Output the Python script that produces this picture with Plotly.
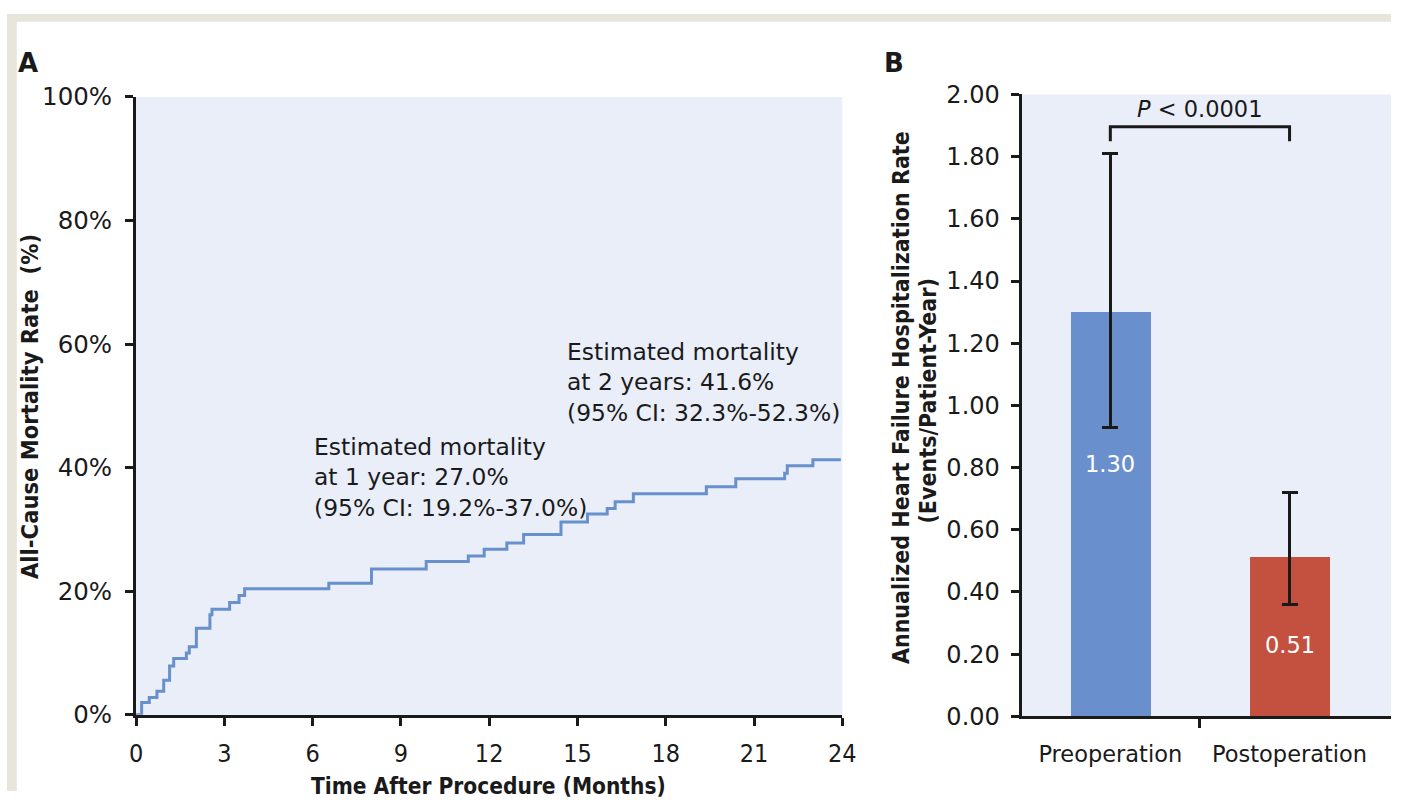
import plotly.graph_objects as go

# ---------------- data ----------------
months = [0, 0.19, 0.45, 0.71, 0.94, 1.14, 1.28, 1.71, 1.81, 2.05, 2.51, 2.58, 3.18, 3.50, 3.69,
          6.55, 8.0, 9.86, 11.29, 11.83, 12.6, 13.17, 14.44, 15.34, 16.01, 16.28, 16.9,
          19.38, 20.38, 22.04, 22.13, 23.0, 23.95]
mortality_pct = [0, 2.0, 2.8, 3.8, 5.6, 7.9, 9.1, 10.0, 11.0, 14.0, 16.2, 17.1, 18.2, 19.3, 20.4,
                 21.3, 23.6, 24.8, 25.7, 26.8, 27.8, 29.2, 31.2, 32.5, 33.4, 34.5, 35.8,
                 36.9, 38.2, 39.1, 40.3, 41.3, 41.3]
month_ticks = [0, 3, 6, 9, 12, 15, 18, 21, 24]
pct_ticks = [0, 20, 40, 60, 80, 100]
pct_labels = ["0%", "20%", "40%", "60%", "80%", "100%"]

categories = ["Preoperation", "Postoperation"]
hf_rate = [1.30, 0.51]
ci_upper = [1.81, 0.72]
ci_lower = [0.93, 0.36]
rate_ticks = [0.0, 0.2, 0.4, 0.6, 0.8, 1.0, 1.2, 1.4, 1.6, 1.8, 2.0]
bracket_top = 1.896
bracket_leg = 1.85
p_text = "<i>P</i> &lt; 0.0001"

note_1yr = ["Estimated mortality", "at 1 year: 27.0%", "(95% CI: 19.2%-37.0%)"]
note_2yr = ["Estimated mortality", "at 2 years: 41.6%", "(95% CI: 32.3%-52.3%)"]

# ---------------- style ----------------
W, H = 1405, 806
LINE = "#6890cc"
BLUE = "#6a8fcd"
RED = "#c4503f"
PLOTBG = "#e9eef8"
BEIGE = "#e8e5dd"
INK = "#1a1a1a"
FONT = "DejaVu Sans, Open Sans, sans-serif"
COND = "DejaVu Sans Condensed, Liberation Sans Narrow, DejaVu Sans, sans-serif"


def px(xp):
    return xp / W


def py(yp):
    return 1 - yp / H


def ptxt(text, x, y, size, family=FONT, angle=0, color=INK):
    return dict(text=text, x=px(x), y=py(y), xref="paper", yref="paper", showarrow=False,
                xanchor="center", yanchor="middle", textangle=angle,
                font=dict(family=family, size=size, color=color))


fig = go.Figure()

fig.add_trace(go.Scatter(
    x=months, y=mortality_pct, mode="lines",
    line=dict(shape="hv", color=LINE, width=3),
    xaxis="x", yaxis="y", hoverinfo="skip", showlegend=False))

fig.add_trace(go.Bar(
    x=[0, 1], y=hf_rate, width=0.445,
    marker=dict(color=[BLUE, RED], line_width=0),
    error_y=dict(type="data",
                 array=[u - v for u, v in zip(ci_upper, hf_rate)],
                 arrayminus=[v - l for v, l in zip(hf_rate, ci_lower)],
                 color=INK, thickness=3, width=8),
    xaxis="x2", yaxis="y2", hoverinfo="skip", showlegend=False))

fig.add_trace(go.Scatter(
    x=[0, 0, 1, 1], y=[bracket_leg, bracket_top, bracket_top, bracket_leg],
    mode="lines", line=dict(color=INK, width=3),
    xaxis="x2", yaxis="y2", hoverinfo="skip", showlegend=False))

axis_common = dict(showline=True, linecolor=INK, linewidth=3, ticks="outside",
                   ticklen=8, tickwidth=3, tickcolor=INK, showgrid=False,
                   zeroline=False, fixedrange=True)

annotations = [
    ptxt("<b>A</b>", 21, 51, 26),
    ptxt("<b>B</b>", 900, 51, 26),
    ptxt("<b>All-Cause Mortality Rate\u00a0 (%)</b>", 24, 407, 23.5, COND, -90),
    ptxt("<b>Time After Procedure (Months)</b>", 489, 801, 22.5, COND),
    ptxt("<b>Annualized Heart Failure Hospitalization Rate</b>", 907, 398, 23, COND, -90),
    ptxt("<b>(Events/Patient-Year)</b>", 935, 401, 23, COND, -90),
    dict(text="<br>".join(note_1yr), x=5.99, y=38.4, xref="x", yref="y", xanchor="left",
         yanchor="middle", align="left", showarrow=False,
         font=dict(family=FONT, size=23.4, color=INK)),
    dict(text="<br>".join(note_2yr), x=14.59, y=53.75, xref="x", yref="y", xanchor="left",
         yanchor="middle", align="left", showarrow=False,
         font=dict(family=FONT, size=23.4, color=INK)),
    dict(text=p_text, x=0.5, y=1.953, xref="x2", yref="y2", showarrow=False,
         xanchor="center", yanchor="middle",
         font=dict(family=FONT, size=22.5, color=INK)),
    dict(text=f"{hf_rate[0]:.2f}", x=0, y=0.81, xref="x2", yref="y2", showarrow=False,
         xanchor="center", yanchor="middle",
         font=dict(family=FONT, size=22.5, color="white")),
    dict(text=f"{hf_rate[1]:.2f}", x=1, y=0.23, xref="x2", yref="y2", showarrow=False,
         xanchor="center", yanchor="middle",
         font=dict(family=FONT, size=22.5, color="white")),
]

shapes = [
    dict(type="rect", xref="paper", yref="paper", x0=0, x1=px(10), y0=0, y1=1,
         fillcolor=BEIGE, line_width=0, layer="above"),
    dict(type="rect", xref="paper", yref="paper", x0=0, x1=1, y0=py(8), y1=1,
         fillcolor=BEIGE, line_width=0, layer="above"),
]

fig.update_layout(
    width=W, height=H, autosize=False, margin=dict(l=0, r=0, t=0, b=0, pad=0),
    paper_bgcolor="white", plot_bgcolor=PLOTBG, showlegend=False,
    font=dict(family=FONT, color=INK),
    xaxis=dict(domain=[px(131), px(848)], range=[0, 24], tickvals=month_ticks,
               anchor="y", tickfont=dict(family=COND, size=25), ticklabelstandoff=6,
               **axis_common),
    yaxis=dict(domain=[py(727), py(86)], range=[0, 100], tickvals=pct_ticks,
               ticktext=pct_labels,
               anchor="x", tickfont=dict(family=FONT, size=24.5), ticklabelstandoff=8,
               **axis_common),
    xaxis2=dict(domain=[px(1030), 1], range=[-0.495, 1.566], tickvals=[0, 1],
                ticktext=categories, anchor="y2",
                tickfont=dict(family=FONT, size=22.5), ticklabelstandoff=16,
                showline=True, linecolor=INK, linewidth=3, ticks="",
                minor=dict(tickvals=[0.5], ticks="outside", ticklen=9, tickwidth=3,
                           tickcolor=INK, showgrid=False),
                showgrid=False, zeroline=False, fixedrange=True),
    yaxis2=dict(domain=[py(728.5), py(83.5)], range=[0, 2], tickvals=rate_ticks,
                tickformat=".2f", anchor="x2", tickfont=dict(family=FONT, size=24),
                ticklabelstandoff=6, **axis_common),
    annotations=annotations,
    shapes=shapes,
    bargap=0,
)

fig.write_html(
    "out.html",
    config={"displayModeBar": False, "responsive": False},
    post_script=(
        "document.documentElement.style.margin='0';"
        "document.body.style.margin='0';document.body.style.padding='0';"
        "document.body.style.overflow='hidden';"
        "document.body.style.background='#ffffff';"
        "var d=document.getElementById('{plot_id}');"
        "d.style.position='fixed';d.style.left='0px';d.style.top='0px';"
    ),
)
